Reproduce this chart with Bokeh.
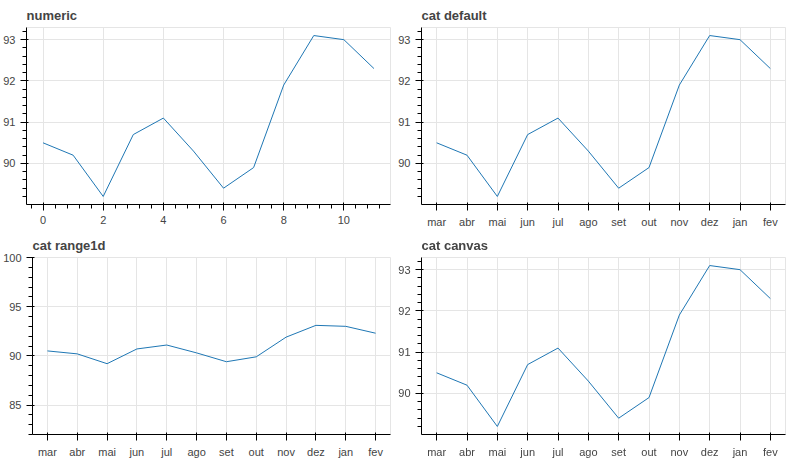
from bokeh.plotting import figure
from bokeh.models import FactorRange, Range1d
from bokeh.layouts import column, row
from bokeh.embed import file_html
from bokeh.resources import INLINE

months = ["mar", "abr", "mai", "jun", "jul", "ago", "set", "out", "nov", "dez", "jan", "fev"]
vals = [90.5, 90.2, 89.2, 90.7, 91.1, 90.3, 89.4, 89.9, 91.9, 93.1, 93.0, 92.3]

p1 = figure(width=395, height=230, output_backend="svg", toolbar_location=None, title="numeric")
p1.line(list(range(12)), vals)

p2 = figure(width=395, height=230, output_backend="svg", toolbar_location=None, title="cat default",
            x_range=months)
p2.line(months, vals)

p3 = figure(width=395, height=230, output_backend="svg", toolbar_location=None, title="cat range1d",
            x_range=FactorRange(*months), y_range=Range1d(82, 100))
p3.line(months, vals)

p4 = figure(width=395, height=230, toolbar_location=None, title="cat canvas",
            x_range=FactorRange(*months, factor_padding=0, range_padding=0))
p4.line(months, vals)

p = column(row(p1, p2), row(p3, p4))
open("out.html", "w").write(file_html(p, INLINE))
